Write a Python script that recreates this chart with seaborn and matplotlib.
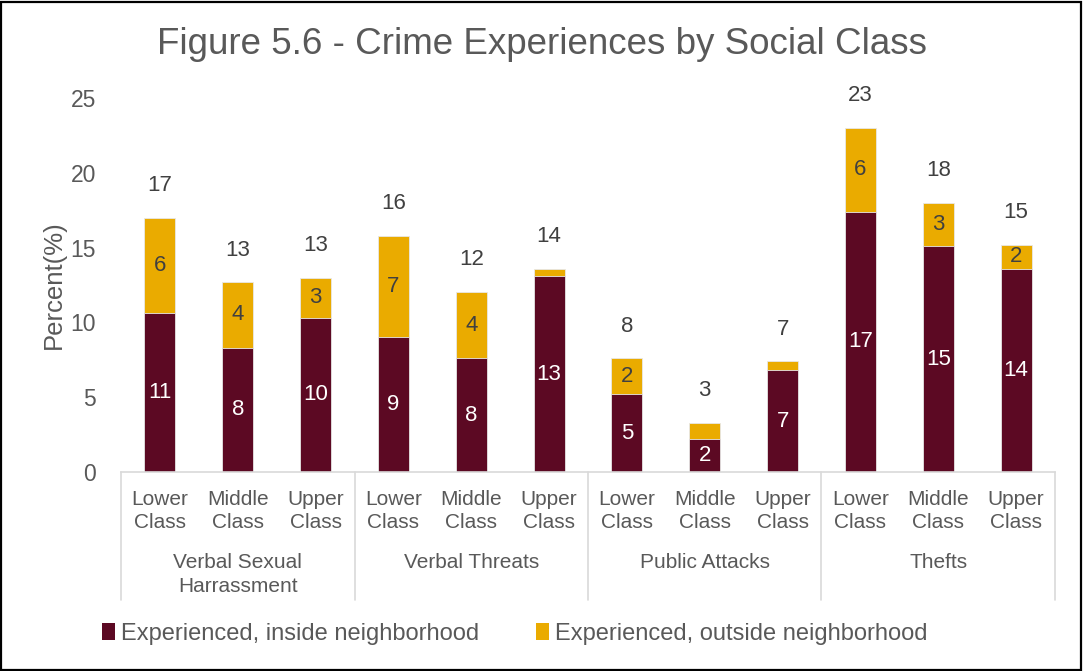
import matplotlib
matplotlib.use("Agg")
import matplotlib.pyplot as plt
from matplotlib.patches import Patch, Rectangle
from matplotlib.lines import Line2D
import matplotlib.transforms as mtransforms
import pandas as pd
import seaborn as sns

# ---- data -------------------------------------------------------------
crime_types = ["Verbal Sexual\nHarrassment", "Verbal Threats", "Public Attacks", "Thefts"]
classes = ["Lower\nClass", "Middle\nClass", "Upper\nClass"]

inside = [10.6, 8.3, 10.3,
          9.0, 7.6, 13.1,
          5.2, 2.2, 6.8,
          17.4, 15.1, 13.6]
outside = [6.4, 4.4, 2.7,
           6.8, 4.45, 0.5,
           2.4, 1.1, 0.6,
           5.6, 2.9, 1.6]

series_names = ["Experienced, inside neighborhood", "Experienced, outside neighborhood"]

# ---- styling ----------------------------------------------------------
MAROON = "#5C0923"
GOLD = "#EAAB00"
TEXT = "#595959"
LABEL = "#404040"
GRID = "#D9D9D9"

sns.set_theme(style="white")
plt.rcParams["font.family"] = ["Liberation Sans", "DejaVu Sans"]

keys = [f"{g}|{c}" for g in crime_types for c in classes]
totals = [a + b for a, b in zip(inside, outside)]
df = pd.DataFrame({"bar": keys, "inside": inside, "outside": outside, "total": totals})

fig = plt.figure(figsize=(10.84, 6.71), dpi=100)
W, H = 1084, 671
ax = fig.add_axes([121 / W, 1 - 472 / H, (1055 - 121) / W, (472 - 98) / H])

# stacked bars: full height in gold, inside part in maroon over it
sns.barplot(data=df, x="bar", y="total", order=keys, color=GOLD, width=0.4,
            saturation=1, edgecolor="#E8E8E8", linewidth=0.6, ax=ax)
sns.barplot(data=df, x="bar", y="inside", order=keys, color=MAROON, width=0.4,
            saturation=1, edgecolor="#E8E8E8", linewidth=0.6, ax=ax)

ax.set_ylim(0, 25)
ax.set_xlim(-0.5, len(keys) - 0.5)
ax.set_yticks(range(0, 26, 5))
ax.tick_params(axis="y", labelsize=16.5, labelcolor=TEXT, length=0, pad=18)
ax.set_ylabel("Percent(%)", fontsize=18.5, color=TEXT, labelpad=3)
ax.set_xlabel("")
for s in ["top", "right", "left"]:
    ax.spines[s].set_visible(False)
ax.spines["bottom"].set_color(GRID)
ax.spines["bottom"].set_linewidth(1.2)

ax.set_xticks(range(len(keys)))
ax.set_xticklabels([k.split("|")[1] for k in keys], fontsize=15, color=TEXT,
                   linespacing=1.25)
ax.tick_params(axis="x", length=0, pad=13)

# value labels
for i, (a, b, t) in enumerate(zip(inside, outside, totals)):
    ax.text(i, a / 2, f"{a:.0f}", ha="center", va="center", color="white", fontsize=16)
    if b >= 1.5:
        ax.text(i, a + b / 2, f"{b:.0f}", ha="center", va="center", color=LABEL, fontsize=16)
    ax.annotate(f"{t:.0f}", (i, t), xytext=(0, 32), textcoords="offset pixels",
                ha="center", va="center", color=LABEL, fontsize=16)

# group labels and separators below the axis
trans = mtransforms.blended_transform_factory(ax.transData, fig.transFigure)
sep_bottom = 1 - 600 / H
for gi, g in enumerate(crime_types):
    center = gi * 3 + 1
    ax.text(center, 1 - 553 / H, g, transform=trans, ha="center", va="top",
            fontsize=15, color=TEXT, linespacing=1.3)
for b in range(len(crime_types) + 1):
    x = b * 3 - 0.5
    ax.add_line(Line2D([x, x], [1 - 472 / H, sep_bottom], transform=trans,
                       color=GRID, linewidth=1.2, clip_on=False))

# legend
handles = [Patch(facecolor=MAROON, edgecolor="none"), Patch(facecolor=GOLD, edgecolor="none")]
fig.legend(handles, series_names, loc="center", bbox_to_anchor=(515 / W, 1 - 634 / H),
           ncol=2, frameon=False, fontsize=17, labelcolor=TEXT,
           handlelength=0.55, handleheight=0.7, handletextpad=0.25, columnspacing=2.4)

# title
fig.text(542 / W, 1 - 45 / H, "Figure 5.6 - Crime Experiences by Social Class",
         ha="center", va="center", fontsize=26.5, color=TEXT)

# outer frame
fig.patches.append(Rectangle((0.001, 0.002), 0.996, 0.995, transform=fig.transFigure,
                             fill=False, edgecolor="black", linewidth=1.6))

fig.savefig("out.png", dpi=100)
